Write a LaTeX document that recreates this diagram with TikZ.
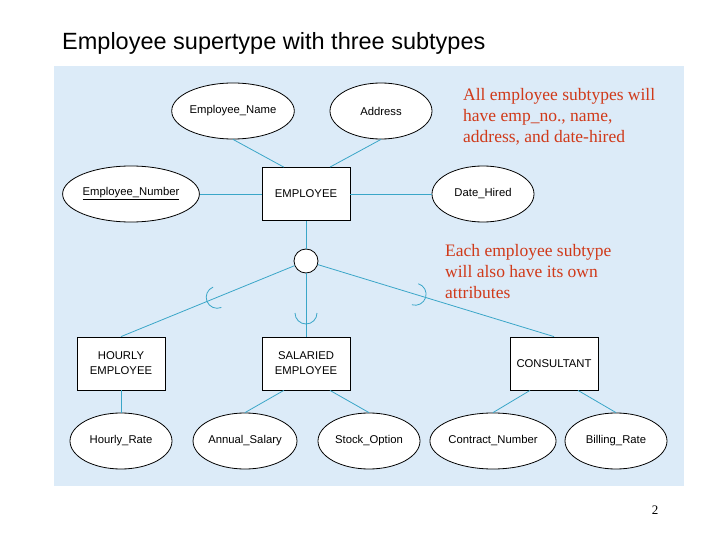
\documentclass[tikz,border=0pt]{standalone}
\usepackage{fontspec}
\setmainfont{Liberation Serif}
\newfontfamily\arial{Liberation Sans}
\definecolor{panel}{HTML}{DCEBF8}
\definecolor{conn}{HTML}{3AA6C8}
\definecolor{note}{HTML}{D03A1A}
\tikzset{
  attr/.style={ellipse,draw,thick,fill=white,minimum width=102pt,minimum height=56pt,inner sep=0pt,font=\arial\fontsize{11.3}{13}\selectfont},
  ent/.style={rectangle,draw,thick,fill=white,minimum width=88pt,minimum height=53pt,align=center,font=\arial\fontsize{11.3}{15}\selectfont},
  con/.style={conn,thick},
  notetext/.style={note,align=left,anchor=north west,font=\fontsize{17.5}{21.2}\selectfont,inner sep=0pt}
}
\usetikzlibrary{shapes.geometric,calc}
\begin{document}
\begin{tikzpicture}[x=1pt,y=-1pt]
\useasboundingbox (0,0) rectangle (720,540);
\fill[panel] (54,66) rectangle (684,486);
\node[anchor=west,inner sep=0pt,font=\arial\fontsize{23.5}{26}\selectfont] (title) at (62,43) {Employee supertype with three subtypes};
% entities
\node[ent] (emp) at (306,194) {EMPLOYEE};
\node[ent] (hour) at (121,363.5) {HOURLY\\EMPLOYEE};
\node[ent] (sal) at (306,363.5) {SALARIED\\EMPLOYEE};
\node[ent] (cons) at (554,363.5) {CONSULTANT};
% attributes
\node[attr] (ename) at (233,111) {Employee\_Name};
\node[attr] (addr) at (381,111) {Address};
\node[attr,minimum width=106pt] (enum) at (131,194) {\underline{Employee\_Number}};
\node[attr] (dh) at (483,194) {Date\_Hired};
\node[attr] (hr) at (121,441) {Hourly\_Rate};
\node[attr] (as) at (245,441) {Annual\_Salary};
\node[attr] (so) at (369,441) {Stock\_Option};
\node[attr] (cn) at (493,441) {Contract\_Number};
\node[attr] (br) at (616,441) {Billing\_Rate};
\node[circle,draw,thick,fill=white,minimum size=24pt,inner sep=0pt] (circ) at (306,261) {};
% connectors
\draw[con] (ename.south) -- ($(emp.north west)!0.25!(emp.north east)$);
\draw[con] (addr.south) -- ($(emp.north west)!0.77!(emp.north east)$);
\draw[con] (enum) -- (emp);
\draw[con] (emp) -- (dh);
\draw[con] (emp) -- (circ);
\coordinate (ht) at (hour.north);
\coordinate (ct) at (cons.north);
\draw[con] (circ) -- (ht);
\draw[con] (circ) -- (sal);
\draw[con] (circ) -- (ct);
\draw[con] (hour) -- (hr);
\draw[con] ($(sal.south west)!0.25!(sal.south east)$) -- (as.north);
\draw[con] ($(sal.south west)!0.77!(sal.south east)$) -- (so.north);
\draw[con] ($(cons.south west)!0.23!(cons.south east)$) -- (cn.north);
\draw[con] ($(cons.south west)!0.77!(cons.south east)$) -- (br.north);
% subset symbols (y axis points down)
\coordinate (s1) at ($(circ)!0.48!(ht)$);
\coordinate (s2) at (306,313);
\coordinate (s3) at ($(circ)!0.44!(ct)$);
\draw[con] ([shift={(68:11)}]s1) arc[start angle=68,end angle=248,radius=11];
\draw[con] ([shift={(0:11)}]s2) arc[start angle=0,end angle=180,radius=11];
\draw[con] ([shift={(-73:11)}]s3) arc[start angle=-73,end angle=107,radius=11];
% notes
\node[notetext] (n1) at (463,88) {All employee subtypes will\\have emp\_no., name,\\address, and date-hired};
\node[notetext] (n2) at (445,244) {Each employee subtype\\will also have its own\\attributes};
\node[font=\fontsize{13}{15}\selectfont] (pg) at (655,510) {2};
\end{tikzpicture}
\end{document}
